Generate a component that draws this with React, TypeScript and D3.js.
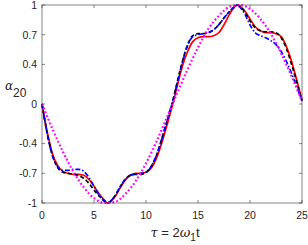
import React from 'react';
import * as d3 from 'd3';

// tau values the curves were read at
const tauSteps = [
  0, 0.5, 1, 1.5, 2, 2.5, 3, 3.5, 4, 4.5, 5, 5.5, 6, 6.3, 6.5, 7, 7.5, 8, 8.5, 9, 9.5, 10,
  10.5, 11, 11.5, 12, 12.5, 13, 13.5, 14, 14.5, 15, 15.5, 16, 16.5, 17, 17.5, 18, 18.5, 18.8,
  19, 19.5, 20, 20.5, 21, 21.5, 22, 22.5, 23, 23.5, 24, 24.5, 25,
];

const redVals = [
  0, -0.28, -0.5, -0.62, -0.68, -0.7, -0.71, -0.71, -0.72, -0.76, -0.83, -0.91, -0.97, -1, -0.99,
  -0.94, -0.85, -0.77, -0.72, -0.7, -0.7, -0.69, -0.65, -0.55, -0.4, -0.22, -0.03, 0.18, 0.38,
  0.53, 0.63, 0.67, 0.68, 0.68, 0.69, 0.72, 0.8, 0.9, 0.98, 1, 0.99, 0.94, 0.86, 0.78, 0.74,
  0.72, 0.72, 0.71, 0.68, 0.58, 0.43, 0.24, 0.04,
];

const blackVals = [
  0, -0.3, -0.52, -0.64, -0.69, -0.7, -0.71, -0.72, -0.75, -0.8, -0.87, -0.93, -0.98, -1, -0.99,
  -0.93, -0.84, -0.76, -0.72, -0.71, -0.71, -0.69, -0.63, -0.52, -0.36, -0.18, 0, 0.22, 0.43,
  0.6, 0.69, 0.71, 0.71, 0.72, 0.75, 0.8, 0.87, 0.93, 0.98, 1, 0.99, 0.93, 0.84, 0.77, 0.74,
  0.73, 0.73, 0.72, 0.67, 0.56, 0.4, 0.22, 0.03,
];

const blueVals = [
  0, -0.3, -0.52, -0.63, -0.67, -0.67, -0.66, -0.66, -0.68, -0.74, -0.83, -0.92, -0.98, -1, -0.99,
  -0.93, -0.84, -0.76, -0.72, -0.71, -0.7, -0.69, -0.63, -0.52, -0.36, -0.18, 0, 0.21, 0.42,
  0.59, 0.68, 0.7, 0.71, 0.72, 0.75, 0.8, 0.87, 0.93, 0.98, 1, 0.98, 0.91, 0.8, 0.72, 0.69,
  0.67, 0.64, 0.6, 0.53, 0.43, 0.31, 0.17, 0.04,
];

// the dotted reference curve, read at whole tau values
const tauWhole = [0, 1, 2, 3, 4, 5, 6, 7, 8, 9, 10, 11, 12, 13, 14, 15, 16, 17, 18, 19, 20, 21, 22, 23, 24, 25];
const magentaVals = [
  0, -0.25, -0.48, -0.68, -0.84, -0.95, -1, -0.99, -0.91, -0.78, -0.6, -0.38, -0.14, 0.11, 0.35,
  0.57, 0.76, 0.89, 0.98, 1, 0.96, 0.86, 0.71, 0.51, 0.28, 0.03,
];

const xTicks = [0, 5, 10, 15, 20, 25];
const yTicks = [-1, -0.7, -0.4, 0, 0.4, 0.7, 1];

const W = 308;
const H = 245;
const margin = { top: 5, right: 6, bottom: 42, left: 42 };
const font = 'Liberation Sans, Arial, sans-serif';

export default function App() {
  const x = d3.scaleLinear().domain([0, 25]).range([margin.left, W - margin.right]);
  const y = d3.scaleLinear().domain([-1, 1]).range([H - margin.bottom, margin.top]);

  const line = d3
    .line<[number, number]>()
    .x(d => x(d[0]))
    .y(d => y(d[1]))
    .curve(d3.curveMonotoneX);

  const pairs = (ts: number[], vs: number[]) => ts.map((t, i) => [t, vs[i]] as [number, number]);

  const series = [
    { vals: pairs(tauSteps, redVals), color: '#ff0000', dash: undefined, width: 1.7 },
    { vals: pairs(tauSteps, blackVals), color: '#000000', dash: '4 2.5', width: 1.7 },
    { vals: pairs(tauSteps, blueVals), color: '#0000ff', dash: '5 2 1.5 2', width: 1.7 },
    { vals: pairs(tauWhole, magentaVals), color: '#ff00ff', dash: '1.8 2.2', width: 2.2 },
  ];

  const x0 = x(0), x1 = x(25), y0 = y(-1), y1 = y(1);
  const axisColor = '#262626';
  const tick = 3;

  return (
    <svg width={W} height={H} style={{ position: 'absolute', left: 0, top: 0, background: '#fff' }}>
      <rect x={0} y={0} width={W} height={H} fill="#fff" />
      <g>
        {series.map((s, i) => (
          <path key={i} d={line(s.vals) || ''} fill="none" stroke={s.color}
            strokeWidth={s.width} strokeDasharray={s.dash} />
        ))}
      </g>
      {/* box with inward ticks */}
      <rect x={x0} y={y1} width={x1 - x0} height={y0 - y1} fill="none" stroke={axisColor}
        strokeOpacity={0.7} strokeWidth={0.8} />
      {xTicks.map(t => (
        <g key={'x' + t} stroke={axisColor} strokeOpacity={0.7} strokeWidth={0.8}>
          <line x1={x(t)} x2={x(t)} y1={y0} y2={y0 - tick} />
          <line x1={x(t)} x2={x(t)} y1={y1} y2={y1 + tick} />
        </g>
      ))}
      {yTicks.map(t => (
        <g key={'y' + t} stroke={axisColor} strokeOpacity={0.7} strokeWidth={0.8}>
          <line x1={x0} x2={x0 + tick} y1={y(t)} y2={y(t)} />
          <line x1={x1} x2={x1 - tick} y1={y(t)} y2={y(t)} />
        </g>
      ))}
      {xTicks.map(t => (
        <text key={'xl' + t} x={x(t)} y={y0 + 16} textAnchor="middle" fontSize={10.5}
          fontFamily={font} fill={axisColor}>{t}</text>
      ))}
      {yTicks.map(t => (
        <text key={'yl' + t} x={x0 - 5} y={y(t) + 3.8} textAnchor="end" fontSize={10.5}
          fontFamily={font} fill={axisColor}>{t}</text>
      ))}
      <text x={5} y={90} fontSize={12} fontFamily={font} fill={axisColor}>
        <tspan fontStyle="italic" fontFamily="DejaVu Serif, serif">α</tspan>
        <tspan dy={7}>20</tspan>
      </text>
      <text x={175} y={237} textAnchor="middle" fontSize={13} fontFamily={font} fill={axisColor}>
        <tspan fontStyle="italic" fontFamily="DejaVu Serif, serif">τ</tspan>
        <tspan> = 2</tspan>
        <tspan fontStyle="italic" fontFamily="DejaVu Serif, serif">ω</tspan>
        <tspan dy={4} fontSize={10}>1</tspan>
        <tspan dy={-4}>t</tspan>
      </text>
    </svg>
  );
}
